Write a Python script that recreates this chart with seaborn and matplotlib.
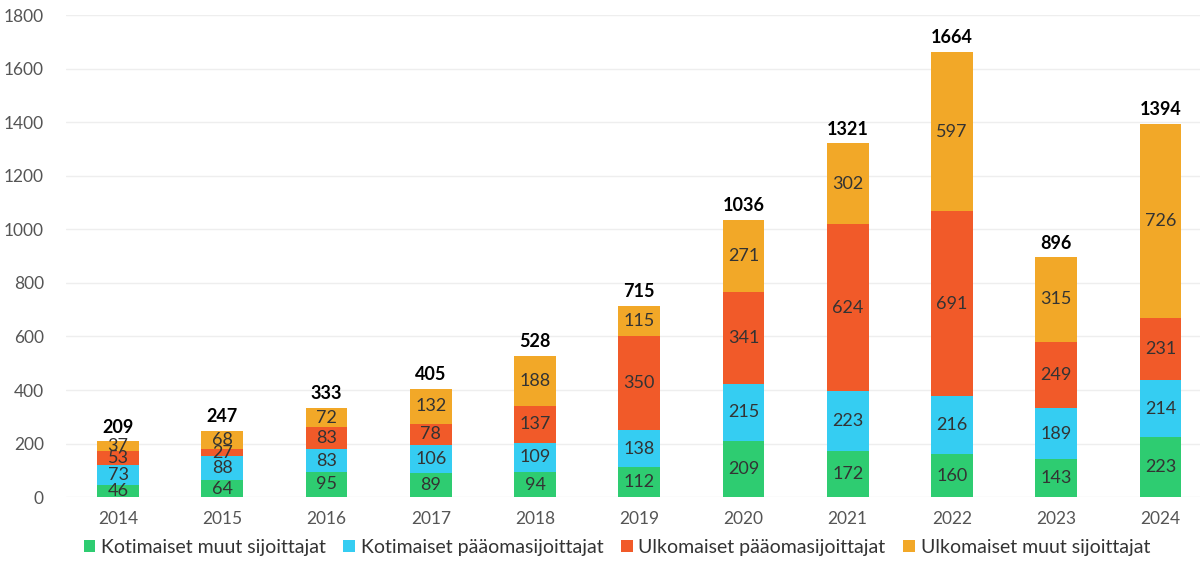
import numpy as np
import pandas as pd
import seaborn as sns
import matplotlib.pyplot as plt

years = ["2014", "2015", "2016", "2017", "2018", "2019", "2020", "2021", "2022", "2023", "2024"]
kotimaiset_muut = [46, 64, 95, 89, 94, 112, 209, 172, 160, 143, 223]
kotimaiset_paaoma = [73, 88, 83, 106, 109, 138, 215, 223, 216, 189, 214]
ulkomaiset_paaoma = [53, 27, 83, 78, 137, 350, 341, 624, 691, 249, 231]
ulkomaiset_muut = [37, 68, 72, 132, 188, 115, 271, 302, 597, 315, 726]
totals = [209, 247, 333, 405, 528, 715, 1036, 1321, 1664, 896, 1394]

series = [
    ("Kotimaiset muut sijoittajat", kotimaiset_muut, "#2ecc71"),
    ("Kotimaiset pääomasijoittajat", kotimaiset_paaoma, "#35cdf2"),
    ("Ulkomaiset pääomasijoittajat", ulkomaiset_paaoma, "#f15a29"),
    ("Ulkomaiset muut sijoittajat", ulkomaiset_muut, "#f2a828"),
]

sns.set_style("white")
plt.rcParams['font.family'] = ['Lato', 'DejaVu Sans']

fig = plt.figure(figsize=(12, 5.63), dpi=100)
ax = fig.add_axes([0.055, 0.117, 0.945, 0.856])

bottom = np.zeros(len(years))
for name, vals, color in series:
    df = pd.DataFrame({"year": years, "value": vals})
    sns.barplot(data=df, x="year", y="value", color=color, bottom=bottom,
                width=0.4, label=name, ax=ax, saturation=1, linewidth=0)
    cont = ax.containers[-1]
    ax.bar_label(cont, labels=[str(v) for v in vals], label_type="center",
                 fontsize=13, color="#333333")
    bottom = bottom + np.array(vals)

ax.bar_label(ax.containers[-1], labels=[str(t) for t in totals], padding=4,
             fontsize=13, fontweight="bold", color="black")

ax.set_ylim(0, 1800)
ax.set_xlim(-0.5, 10.38)
ax.set_yticks(range(0, 1801, 200))
ax.yaxis.grid(True, color="#eeeeee", linewidth=1)
ax.set_axisbelow(True)
for s in ax.spines.values():
    s.set_visible(False)
ax.set_xlabel("")
ax.set_ylabel("")
ax.tick_params(axis="both", length=0, labelsize=12.5, labelcolor="#555555")
ax.tick_params(axis="y", pad=16)
ax.tick_params(axis="x", pad=10)

handles, labels = ax.get_legend_handles_labels()
if ax.legend_:
    ax.legend_.remove()
fig.legend(handles, labels, loc="lower left", bbox_to_anchor=(0.055, -0.018),
           ncol=4, frameon=False, fontsize=14, handlelength=0.6, handleheight=0.6,
           handletextpad=0.3, columnspacing=0.9, labelcolor="#333333")

fig.savefig("out.png", dpi=100, facecolor="white")
